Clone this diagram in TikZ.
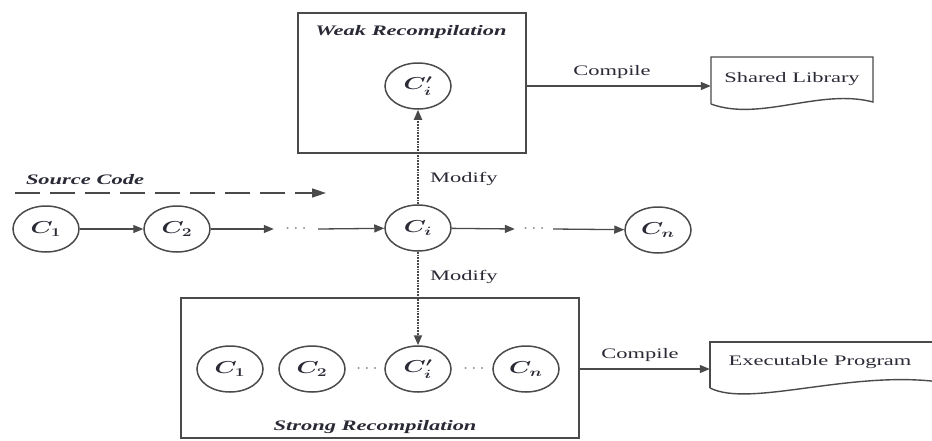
\documentclass[tikz,border=0pt]{standalone}
\usepackage{fontspec}
\setmainfont{Liberation Serif}
\usepackage{graphicx}
\usetikzlibrary{shapes.geometric,arrows.meta}
\definecolor{linec}{HTML}{4A4A4A}
\definecolor{txtc}{HTML}{2A2A36}
\newcommand{\stx}[1]{\scalebox{1.55}[1]{#1}}
\newcommand{\sti}[1]{\scalebox{1.45}[1]{#1}}
\begin{document}
\begin{tikzpicture}[x=1pt,y=-1pt,
  cnode/.style={ellipse,draw=linec,line width=1.5pt,minimum width=66pt,minimum height=46pt,inner sep=0pt,text=txtc,font=\fontsize{18}{18}\selectfont\boldmath},
  boxn/.style={draw=linec,line width=1.8pt,inner sep=0pt},
  lbl/.style={text=txtc,font=\fontsize{14.5}{14.5}\selectfont,inner sep=0pt},
  ttl/.style={text=txtc,font=\fontsize{14.5}{14.5}\selectfont\bfseries\itshape,inner sep=0pt},
  dotn/.style={text=linec,inner sep=0pt,font=\fontsize{12}{12}\selectfont},
  arr/.style={draw=linec,line width=1.3pt,-{Triangle[length=10pt,width=8pt]}},
  darr/.style={draw=linec,line width=1.8pt,densely dotted,-{Triangle[length=10pt,width=8pt]}},
  docl/.style={draw=linec,line width=1.4pt}]
\useasboundingbox (0,0) rectangle (932,440);
\clip (0,0) rectangle (932,440);

% weak recompilation box
\node[boxn,minimum width=228pt,minimum height=140pt] (weak) at (412,83) {};
\node[ttl] (weakt) at (411,32) {\stx{Weak Recompilation}};
\node[cnode] (cit) at (418,86) {\sti{$C_i^{\prime}$}};

% shared library document
\node[lbl,minimum width=162pt] (shared) at (792,79) {\stx{Shared Library}};
\draw[docl] (711,104) -- (711,57) -- (873,57) -- (873,102) .. controls (820,88) and (760,122) .. (711,104);
\draw[arr] (weak.east |- cit.center) -- (shared.west |- cit.center);
\node[lbl] (comp1) at (612,72) {\stx{Compile}};

% source code
\node[ttl] (srct) at (85,180) {\stx{Source Code}};
\coordinate (src0) at (15,193);
\coordinate (src1) at (326,193);
\draw[draw=linec,line width=1.6pt,dash pattern=on 25pt off 10pt,-{Triangle[length=14pt,width=9pt]}] (src0) -- (src1);

% main row
\node[cnode] (c1) at (46,229) {\sti{$C_1$}};
\node[cnode] (c2) at (177,229) {\sti{$C_2$}};
\node[dotn,minimum width=44pt] (d1) at (296,229) {\stx{$\cdots$}};
\node[cnode] (ci) at (418,228) {\sti{$C_i$}};
\node[dotn,minimum width=38pt] (d2) at (534,229) {\stx{$\cdots$}};
\node[cnode] (cn) at (658,230) {\sti{$C_n$}};
\draw[arr] (c1) -- (c2);
\draw[arr] (c2) -- (d1.west);
\draw[arr] (d1.east) -- (ci);
\draw[arr] (ci) -- (d2.west);
\draw[arr] (d2.east) -- (cn);

% modify arrows
\draw[darr] (ci) -- (cit);
\node[lbl,anchor=west] (mod1) at (430,179) {\stx{Modify}};

% strong recompilation box
\node[boxn,minimum width=398pt,minimum height=140pt] (strong) at (380,368) {};
\node[ttl] (strongt) at (375,427) {\stx{Strong Recompilation}};
\node[cnode] (b1) at (230,369) {\sti{$C_1$}};
\node[cnode] (b2) at (312,369) {\sti{$C_2$}};
\node[dotn] (bd1) at (367,369) {\stx{$\cdots$}};
\node[cnode] (bi) at (418,369) {\sti{$C_i^{\prime}$}};
\node[dotn] (bd2) at (474,369) {\stx{$\cdots$}};
\node[cnode] (bn) at (526,369) {\sti{$C_n$}};
\draw[darr] (ci) -- (bi);
\node[lbl,anchor=west] (mod2) at (430,277) {\stx{Modify}};

% executable program document
\node[lbl,minimum width=220pt] (exe) at (820,362) {\stx{Executable Program}};
\draw[docl] (710,388) -- (710,342) -- (940,342);
\draw[docl] (710,388) .. controls (750,408) and (850,370) .. (940,382);
\draw[arr] (strong.east |- bi.center) -- (exe.west |- bi.center);
\node[lbl] (comp2) at (640,355) {\stx{Compile}};
\end{tikzpicture}
\end{document}
